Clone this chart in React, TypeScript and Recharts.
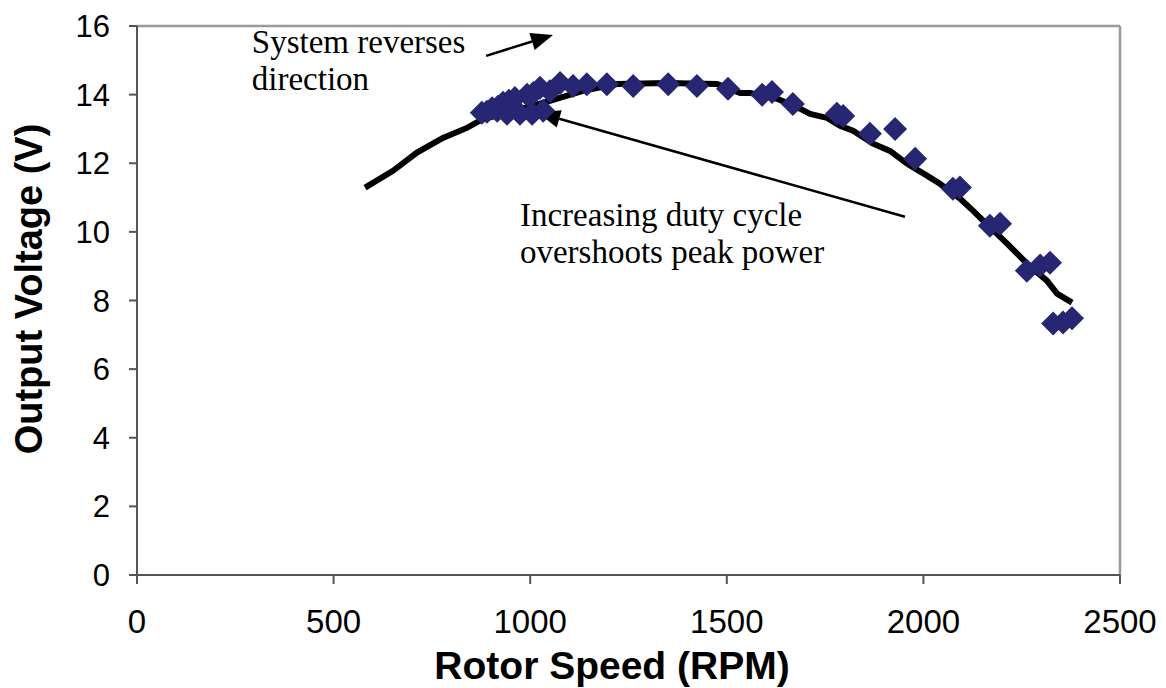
import React from 'react'
import {
  ComposedChart,
  Scatter,
  Line,
  XAxis,
  YAxis,
  ReferenceLine,
  ReferenceDot,
  Label
} from 'recharts'

// measured points (diamonds)
const measuredRpm = [
  877, 890, 903, 916, 918, 931, 941, 946, 961, 974, 992, 1005, 1008, 1025, 1033, 1050, 1076,
  1109, 1144, 1195, 1262, 1351, 1424, 1503, 1590, 1615, 1668, 1780, 1796, 1864, 1928, 1979,
  2075, 2093, 2169, 2195, 2263, 2297, 2322, 2330, 2355, 2378
]
const measuredVolts = [
  13.47, 13.5, 13.6, 13.53, 13.65, 13.76, 13.44, 13.82, 13.9, 13.44, 14.0, 13.44, 14.05, 14.2, 13.53, 14.1, 14.34,
  14.25, 14.3, 14.3, 14.25, 14.3, 14.25, 14.17, 14.0, 14.08, 13.73, 13.44, 13.38, 12.86, 13.0, 12.13,
  11.26, 11.29, 10.18, 10.24, 8.87, 9.02, 9.1, 7.33, 7.36, 7.48
]

// fitted curve (black line)
const curveRpm = [
  580, 651, 712, 778, 839, 880, 941, 1050, 1134, 1221, 1348, 1475, 1534, 1559, 1628, 1686, 1712,
  1755, 1788, 1821, 1872, 1915, 1958, 2009, 2042, 2093, 2126, 2152, 2213, 2263, 2314, 2340, 2378
]
const curveVolts = [
  11.29, 11.78, 12.31, 12.74, 13.03, 13.29, 13.47, 13.82, 14.11, 14.31, 14.34, 14.31, 14.05, 14.05, 13.88, 13.59, 13.44,
  13.32, 13.09, 12.95, 12.57, 12.36, 11.99, 11.64, 11.4, 10.97, 10.62, 10.33, 9.66, 9.08, 8.58, 8.2, 7.94
]

const xTicks = [0, 500, 1000, 1500, 2000, 2500]
const yTicks = [0, 2, 4, 6, 8, 10, 12, 14, 16]

const measured = measuredRpm.map((rpm, i) => ({ rpm, v: measuredVolts[i] }))
const curve = curveRpm.map((rpm, i) => ({ rpm, v: curveVolts[i] }))

const sans = '"Liberation Sans", Arial, sans-serif'
const serif = '"Liberation Serif", "Times New Roman", serif'

const Diamond = (p: any) => {
  const { cx, cy } = p
  const r = 12
  return (
    <polygon
      points={`${cx},${cy - r} ${cx + r},${cy} ${cx},${cy + r} ${cx - r},${cy}`}
      fill="#262673"
    />
  )
}

const Arrow = (p: any) => {
  const { x1, y1, x2, y2 } = p
  const ang = Math.atan2(y2 - y1, x2 - x1)
  const len = 22
  const w = 9
  const bx = x2 - len * Math.cos(ang)
  const by = y2 - len * Math.sin(ang)
  const px = -Math.sin(ang) * w
  const py = Math.cos(ang) * w
  return (
    <g>
      <line x1={x1} y1={y1} x2={bx} y2={by} stroke="#000" strokeWidth={2.5} />
      <polygon points={`${x2},${y2} ${bx + px},${by + py} ${bx - px},${by - py}`} fill="#000" />
    </g>
  )
}

const note = (lines: string[]) => (p: any) => (
  <text x={p.cx} y={p.cy} fontFamily={serif} fontSize={33} fill="#000">
    {lines.map((t, i) => (
      <tspan key={i} x={p.cx} dy={i === 0 ? 0 : 37}>{t}</tspan>
    ))}
  </text>
)

export default function App() {
  return (
    <div style={{ position: 'absolute', left: 0, top: 0, width: 1166, height: 688, background: '#fff' }}>
      <ComposedChart
        width={1166}
        height={688}
        margin={{ top: 26, right: 46, bottom: 0, left: 0 }}
      >
        <XAxis
          dataKey="rpm"
          type="number"
          domain={[0, 2500]}
          ticks={xTicks}
          allowDataOverflow
          height={113}
          stroke="#555"
          strokeWidth={2}
          tickSize={9}
          tickMargin={26}
          tick={{ fill: '#000', fontSize: 33, fontFamily: sans }}
        >
          <Label
            content={() => (
              <text x={612} y={679} textAnchor="middle" fontFamily={sans} fontWeight="bold" fontSize={39} fill="#000">
                Rotor Speed (RPM)
              </text>
            )}
          />
        </XAxis>
        <YAxis
          dataKey="v"
          type="number"
          domain={[0, 16]}
          ticks={yTicks}
          width={137}
          stroke="#555"
          strokeWidth={2}
          tickSize={8}
          tickMargin={19}
          tick={{ fill: '#000', fontSize: 31, fontFamily: sans }}
        >
          <Label
            content={() => (
              <text
                x={28}
                y={289}
                transform="rotate(-90, 28, 289)"
                textAnchor="middle"
                dy="0.36em"
                fontFamily={sans}
                fontWeight="bold"
                fontSize={38}
                fill="#000"
              >
                Output Voltage (V)
              </text>
            )}
          />
        </YAxis>
        <ReferenceLine y={16} stroke="#999" strokeWidth={2.5} />
        <ReferenceLine x={2500} stroke="#999" strokeWidth={2.5} />
        <Scatter data={measured} dataKey="v" shape={Diamond} isAnimationActive={false} />
        <Line
          data={curve}
          dataKey="v"
          type="linear"
          stroke="#000"
          strokeWidth={6}
          dot={false}
          activeDot={false}
          isAnimationActive={false}
        />
        <ReferenceLine
          segment={[{ x: 888, y: 15.13 }, { x: 1058, y: 15.74 }]}
          shape={Arrow}
        />
        <ReferenceLine
          segment={[{ x: 1953, y: 10.44 }, { x: 1020, y: 13.47 }]}
          shape={Arrow}
        />
        <ReferenceDot x={292} y={15.21} r={0} shape={note(['System reverses', 'direction'])} />
        <ReferenceDot x={974} y={10.18} r={0} shape={note(['Increasing duty cycle', 'overshoots peak power'])} />
      </ComposedChart>
    </div>
  )
}
